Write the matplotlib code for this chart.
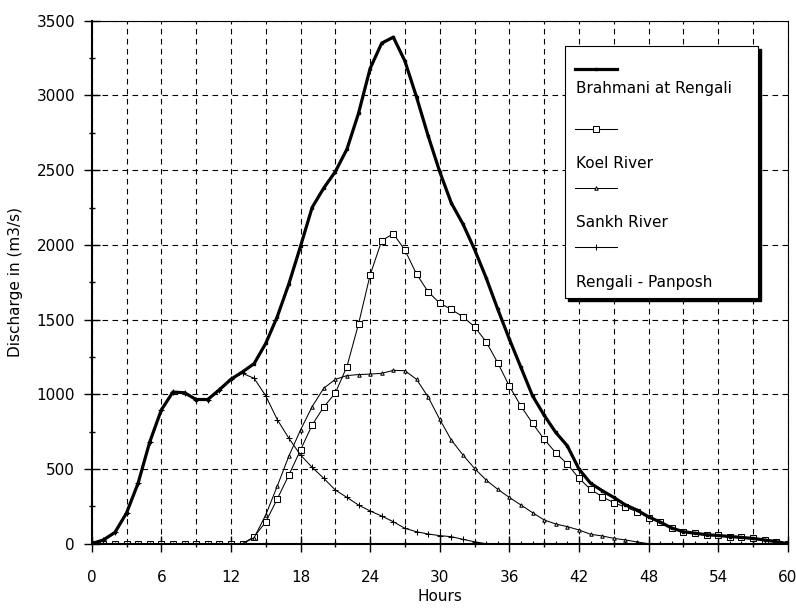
import matplotlib
matplotlib.use("Agg")
import matplotlib.pyplot as plt
from matplotlib.ticker import MultipleLocator
from matplotlib.patches import Rectangle

plt.rcParams['font.family'] = ['DejaVu Sans']

hours = list(range(61))

brahmani = [0, 25, 75, 205, 405, 680, 895, 1015, 1010, 965, 965, 1030, 1100,
            1150, 1205, 1340, 1520, 1740, 1990, 2250, 2380, 2490, 2640, 2880,
            3180, 3350, 3390, 3230, 2990, 2730, 2490, 2280, 2140, 1970, 1780,
            1570, 1370, 1180, 990, 860, 745, 655, 500, 405, 355, 310, 260, 225,
            180, 145, 105, 80, 70, 60, 55, 48, 42, 35, 25, 14, 0]

koel = [0, 0, 0, 0, 0, 0, 0, 0, 0, 0, 0, 0, 0, 0, 47, 145, 300, 460, 627,
        794, 915, 1008, 1185, 1470, 1798, 2028, 2075, 1965, 1805, 1686, 1610,
        1568, 1519, 1452, 1352, 1211, 1055, 921, 806, 699, 609, 533, 438, 364,
        315, 274, 245, 215, 175, 145, 105, 80, 70, 60, 55, 48, 42, 35, 25, 14, 0]

sankh = [0, 0, 0, 0, 0, 0, 0, 0, 0, 0, 0, 0, 0, 0, 40, 192, 386, 587, 761,
         917, 1040, 1100, 1125, 1132, 1135, 1140, 1160, 1158, 1100, 982, 832,
         694, 594, 504, 426, 364, 310, 259, 208, 159, 132, 114, 92, 63, 52, 36,
         25, 12, 0, 0, 0, 0, 0, 0, 0, 0, 0, 0, 0, 0, 0]

rengali_panposh = [0, 25, 75, 205, 405, 680, 895, 1015, 1010, 965, 965, 1030,
                   1100, 1140, 1107, 990, 830, 705, 594, 511, 438, 359, 310,
                   259, 219, 185, 147, 103, 80, 65, 54, 47, 29, 13, 0, 0, 0, 0,
                   0, 0, 0, 0, 0, 0, 0, 0, 0, 0, 0, 0, 0, 0, 0, 0, 0, 0, 0, 0,
                   0, 0, 0]

labels = ["Brahmani at Rengali", "Koel River", "Sankh River", "Rengali - Panposh"]

fig = plt.figure(figsize=(7.96, 6.10), dpi=100)
ax = fig.add_axes([0.1152, 0.1087, 0.8744, 0.8573])

thin = dict(color="black", lw=0.75, markeredgewidth=0.75)
ax.plot(hours, koel, marker="s", ms=4, mfc="white", mec="black", **thin)
ax.plot(hours, sankh, marker="^", ms=2.5, mfc="white", mec="black", **thin)
ax.plot(hours, rengali_panposh, marker="+", ms=4, **thin)
ax.plot(hours, brahmani, color="black", lw=2.3, marker="s", ms=1.8)

ax.set_xlim(0, 60)
ax.set_ylim(0, 3500)
ax.xaxis.set_major_locator(MultipleLocator(6))
ax.xaxis.set_minor_locator(MultipleLocator(3))
ax.yaxis.set_major_locator(MultipleLocator(500))
ax.yaxis.set_minor_locator(MultipleLocator(250))

ax.grid(True, which="major", axis="both", color="black", lw=0.8, ls=(0, (5, 4)))
ax.grid(True, which="minor", axis="x", color="black", lw=0.8, ls=(0, (5, 4)))
ax.set_axisbelow(True)

ax.tick_params(which="major", direction="inout", length=12, width=1, labelsize=11)
ax.tick_params(which="minor", direction="inout", length=5, width=1)
ax.tick_params(axis="x", which="major", pad=13)
ax.tick_params(axis="y", which="major", pad=6)

for s in ["left", "bottom"]:
    ax.spines[s].set_linewidth(1.5)
for s in ["top", "right"]:
    ax.spines[s].set_linewidth(0.8)

ax.set_xlabel("Hours", fontsize=11, labelpad=3)
ax.set_ylabel("Discharge in (m3/s)", fontsize=11, labelpad=10)

# legend drawn by hand: line sample above each label
x0, x1, y0, y1 = 0.680, 0.957, 0.470, 0.9516
ax.add_patch(Rectangle((x0 + 0.0045, y0 - 0.006), x1 - x0, y1 - y0, transform=ax.transAxes,
                       facecolor="black", edgecolor="black", zorder=9, clip_on=False))
ax.add_patch(Rectangle((x0, y0), x1 - x0, y1 - y0, transform=ax.transAxes,
                       facecolor="white", edgecolor="black", lw=0.8, zorder=10, clip_on=False))

styles = [dict(lw=2.3, marker="s", ms=1.8),
          dict(lw=0.75, marker="s", ms=4, mfc="white", markeredgewidth=0.75),
          dict(lw=0.75, marker="^", ms=2.5, mfc="white", markeredgewidth=0.75),
          dict(lw=0.75, marker="+", ms=4, markeredgewidth=0.75)]
line_y = [0.9073, 0.7927, 0.6801, 0.5673]
text_y = [0.8713, 0.7279, 0.6151, 0.5004]
for st, ly, ty, lab in zip(styles, line_y, text_y, labels):
    ax.plot([0.6944, 0.7245, 0.7548], [ly, ly, ly], color="black", transform=ax.transAxes,
            markevery=[1], zorder=11, clip_on=False, **st)
    ax.text(0.6958, ty, lab, transform=ax.transAxes, fontsize=11, va="center",
            ha="left", zorder=11)

fig.savefig("out.png", dpi=100)
